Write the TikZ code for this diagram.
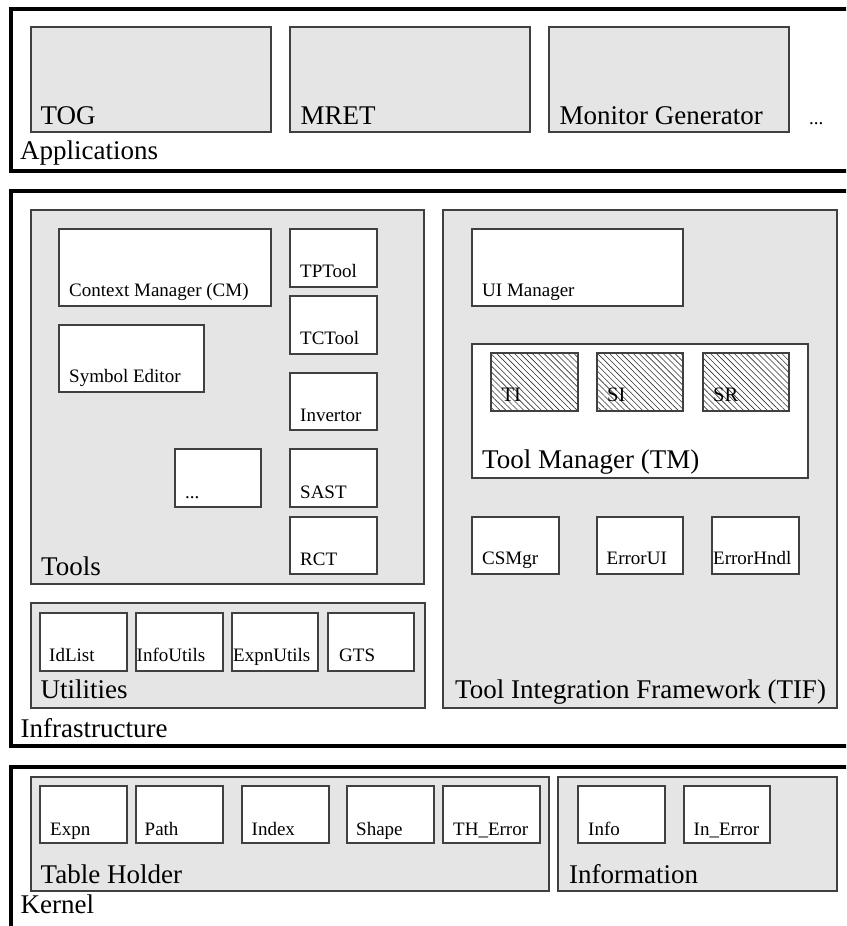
\documentclass[tikz,border=0pt]{standalone}
\usepackage{fontspec}
\setmainfont{Liberation Serif}
\usetikzlibrary{patterns.meta}
\tikzset{
  frame/.style={draw=black, line width=3.5pt, inner sep=0pt, outer sep=0pt},
  grp/.style={draw=black!75, fill=black!10, line width=1.2pt, inner sep=0pt, outer sep=0pt},
  item/.style={draw=black!75, fill=white, line width=1.2pt, inner sep=0pt, outer sep=0pt},
  hatch/.style={item, preaction={fill=white}, pattern={Lines[angle=-45,distance=4.2pt,line width=0.6pt]}, pattern color=black!80},
  big/.style={font=\fontsize{27}{31}\selectfont, inner sep=0pt, anchor=base west},
  small/.style={font=\fontsize{19}{22}\selectfont, inner sep=0pt, anchor=base west},
  mid/.style={font=\fontsize{20.5}{24}\selectfont, inner sep=0pt, anchor=base west},
}
\newcommand\bx[6]{\node[#2, anchor=north west, minimum width={(#5-#3)*1pt}, minimum height={(#6-#4)*1pt}] (#1) at (#3,-#4) {};}
\begin{document}
\begin{tikzpicture}[x=1pt,y=1pt]
\clip (0,0) rectangle (846,-926);
\fill[white] (0,0) rectangle (846,-926);
% Applications
\bx{app}{frame}{11}{9}{880}{171}
\bx{tog}{grp}{31}{27}{271}{132}
\bx{mret}{grp}{290}{27}{530}{132}
\bx{mongen}{grp}{549}{27}{789}{132}
\node[big] (tog-l) at (40.5,-124) {TOG};
\node[big] (mret-l) at (300.5,-124) {MRET};
\node[big] (mongen-l) at (559.5,-124) {Monitor Generator};
\node[small] (appdots) at (809,-124) {...};
\node[big] (app-l) at (20,-159) {Applications};
% Infrastructure
\bx{infra}{frame}{11}{191}{880}{746}
\bx{tools}{grp}{31}{210}{424}{584}
\bx{tif}{grp}{443}{210}{837}{708}
\bx{util}{grp}{31}{603}{425}{708}
\bx{cm}{item}{59}{229}{271}{306}
\bx{symed}{item}{59}{325}{204}{392}
\bx{tdots}{item}{175}{449}{261}{507}
\bx{tptool}{item}{290}{229}{377}{287}
\bx{tctool}{item}{290}{296}{377}{354}
\bx{invertor}{item}{290}{373}{377}{430}
\bx{sast}{item}{290}{449}{377}{507}
\bx{rct}{item}{290}{517}{377}{574}
\node[small] (cm-l) at (69,-296) {Context Manager (CM)};
\node[small] (symed-l) at (69,-382) {Symbol Editor};
\node[small] (tdots-l) at (185,-498) {...};
\node[small] (tptool-l) at (300,-277) {TPTool};
\node[small] (tctool-l) at (300,-344) {TCTool};
\node[small] (invertor-l) at (300,-421) {Invertor};
\node[small] (sast-l) at (300,-498) {SAST};
\node[small] (rct-l) at (300,-565) {RCT};
\node[big] (tools-l) at (41,-575) {Tools};
\bx{uimgr}{item}{472}{229}{683}{306}
\bx{tm}{item}{472}{344}{808}{478}
\bx{ti}{hatch}{491}{353}{578}{411}
\bx{si}{hatch}{597}{353}{683}{411}
\bx{sr}{hatch}{703}{353}{789}{411}
\bx{csmgr}{item}{472}{517}{559}{574}
\bx{errorui}{item}{597}{517}{683}{574}
\bx{errorhndl}{item}{712}{517}{799}{574}
\node[small] (uimgr-l) at (482,-296) {UI Manager};
\node[mid] (ti-l) at (501.5,-401) {TI};
\node[mid] (si-l) at (607,-401) {SI};
\node[mid] (sr-l) at (713,-401) {SR};
\node[big] (tm-l) at (482,-468) {Tool Manager (TM)};
\node[small] (csmgr-l) at (482,-564) {CSMgr};
\node[small] (errorui-l) at (606.5,-564) {ErrorUI};
\node[small] (errorhndl-l) at (713,-564) {ErrorHndl};
\node[big] (tif-l) at (455,-698) {Tool Integration Framework (TIF)};
\bx{idlist}{item}{40}{613}{127}{671}
\bx{infoutils}{item}{136}{613}{223}{671}
\bx{expnutils}{item}{232}{613}{318}{671}
\bx{gts}{item}{328}{613}{414}{671}
\node[small] (idlist-l) at (49,-661) {IdList};
\node[small] (infoutils-l) at (136.5,-661) {InfoUtils};
\node[small] (expnutils-l) at (233,-661) {ExpnUtils};
\node[small] (gts-l) at (339,-661) {GTS};
\node[big] (util-l) at (40.5,-698) {Utilities};
\node[big] (infra-l) at (20.5,-737) {Infrastructure};
% Kernel
\bx{kernel}{frame}{11}{767}{880}{980}
\bx{th}{grp}{31}{777}{549}{891}
\bx{information}{grp}{558}{777}{837}{891}
\bx{expn}{item}{40}{786}{127}{843}
\bx{path}{item}{136}{786}{223}{843}
\bx{index}{item}{242}{786}{329}{843}
\bx{shape}{item}{347}{786}{434}{843}
\bx{therror}{item}{443}{786}{540}{843}
\bx{info}{item}{578}{786}{665}{843}
\bx{inerror}{item}{684}{786}{770}{843}
\node[small] (expn-l) at (50,-835) {Expn};
\node[small] (path-l) at (144.5,-835) {Path};
\node[small] (index-l) at (251.5,-835) {Index};
\node[small] (shape-l) at (356,-835) {Shape};
\node[small] (therror-l) at (453,-835) {TH\_Error};
\node[small] (info-l) at (588,-835) {Info};
\node[small] (inerror-l) at (693.5,-835) {In\_Error};
\node[big] (th-l) at (40.5,-883) {Table Holder};
\node[big] (information-l) at (569,-883) {Information};
\node[big] (kernel-l) at (20.5,-913) {Kernel};
\end{tikzpicture}
\end{document}
